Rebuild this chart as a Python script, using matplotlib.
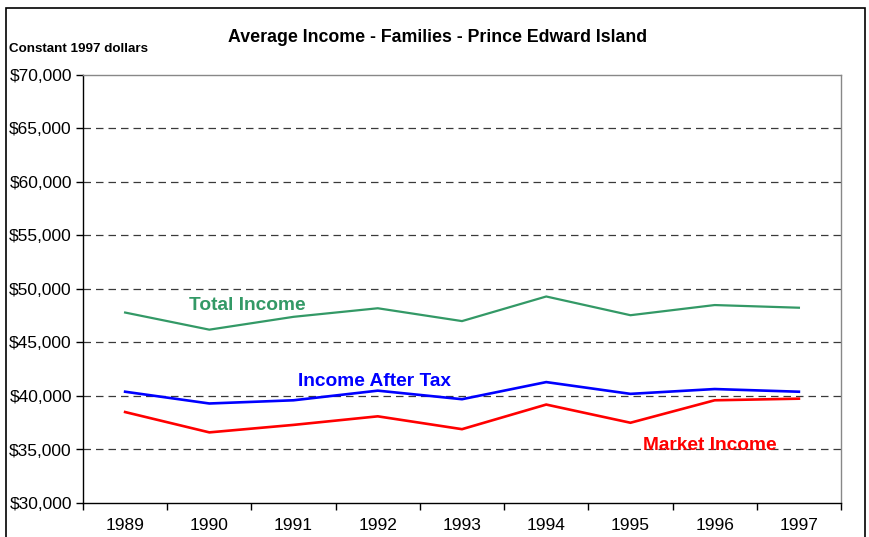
import matplotlib
matplotlib.use("Agg")
import matplotlib.pyplot as plt
from matplotlib.patches import Rectangle
from matplotlib.ticker import FuncFormatter, FixedLocator

years = ["1989", "1990", "1991", "1992", "1993", "1994", "1995", "1996", "1997"]
total_income = [47800, 46200, 47400, 48200, 47000, 49300, 47550, 48500, 48250]
after_tax = [40400, 39300, 39600, 40500, 39700, 41300, 40200, 40650, 40400]
market_income = [38500, 36600, 37300, 38100, 36900, 39200, 37500, 39600, 39750]

plt.rcParams['font.family'] = ['Liberation Sans', 'DejaVu Sans']

W, H = 869, 537
fig = plt.figure(figsize=(W / 100, H / 100), dpi=100)
ax = fig.add_axes([83 / W, 1 - 503 / H, (841 - 83) / W, (503 - 75) / H])

x = list(range(len(years)))
ax.plot(x, total_income, color='#339966', lw=1.6, solid_joinstyle='miter')
ax.plot(x, after_tax, color='#0000FF', lw=1.9, solid_joinstyle='miter')
ax.plot(x, market_income, color='#FF0000', lw=1.9, solid_joinstyle='miter')

ax.set_xlim(-0.5, len(years) - 0.5)
ax.set_ylim(30000, 70000)
ax.set_yticks(range(30000, 70001, 5000))
ax.yaxis.set_major_formatter(FuncFormatter(lambda v, p: f"${int(v):,}"))
ax.tick_params(axis='y', direction='out', length=5, width=1, labelsize=12.5, pad=3, color='black')
for v in range(35000, 70000, 5000):
    ax.axhline(v, color='#3a3a3a', lw=0.9, dashes=(6, 4), zorder=0)

ax.set_xticks(x)
ax.set_xticklabels(years)
ax.xaxis.set_minor_locator(FixedLocator([i - 0.5 for i in range(len(years) + 1)]))
ax.tick_params(axis='x', which='major', length=0, labelsize=12.5, pad=11)
ax.tick_params(axis='x', which='minor', direction='out', length=5, width=1, color='black')

ax.spines['left'].set_color('black')
ax.spines['bottom'].set_color('black')
ax.spines['top'].set_color('#888888')
ax.spines['right'].set_color('#888888')
for s in ax.spines.values():
    s.set_linewidth(1)

labels = [
    ("Total Income", 247, 306, '#339966'),
    ("Income After Tax", 375, 381, '#0000FF'),
    ("Market Income", 710, 446, '#FF0000'),
]
for txt, px, py, col in labels:
    fig.text(px / W, 1 - py / H, txt, color=col, fontsize=13.8,
             fontweight='bold', ha='center', va='center')

fig.text(438 / W, 1 - 37 / H, "Average Income - Families - Prince Edward Island",
         ha='center', va='center', fontsize=12.8, fontweight='bold')
fig.text(9 / W, 1 - 49 / H, "Constant 1997 dollars", ha='left', va='center',
         fontsize=9.6, fontweight='bold')

fig.patches.append(Rectangle((6 / W, -0.05), (865 - 6) / W, (1 - 8 / H) + 0.05,
                             transform=fig.transFigure, fill=False, ec='black', lw=1.2))

fig.savefig("out.png", dpi=100)
